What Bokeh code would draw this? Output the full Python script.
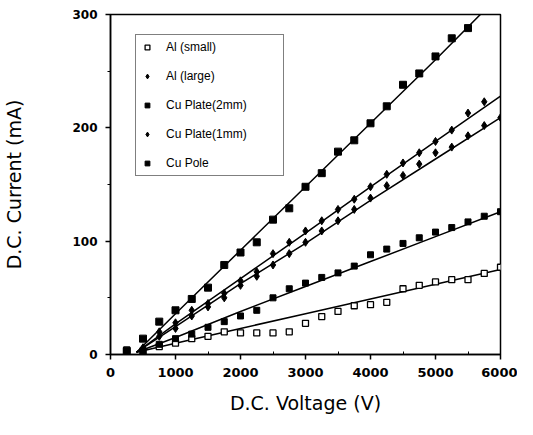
from bokeh.plotting import figure
from bokeh.models import Range1d, Legend, LegendItem, FixedTicker
from bokeh.embed import file_html
from bokeh.resources import INLINE

# ---- data ----
cu2_x = [250, 500, 750, 1000, 1250, 1500, 1750, 2000, 2250, 2500, 2750, 3000,
         3250, 3500, 3750, 4000, 4250, 4500, 4750, 5000, 5250, 5500]
cu2_y = [3, 14, 29, 39, 49, 59, 79, 90, 99, 119, 129, 148,
         160, 179, 189, 204, 219, 238, 248, 263, 279, 288]

al_large_x = [500, 750, 1000, 1250, 1500, 1750, 2000, 2250, 2500, 2750, 3000,
              3250, 3500, 3750, 4000, 4250, 4500, 4750, 5000, 5250, 5500, 5750]
al_large_y = [6, 20, 28, 39, 45, 54, 65, 73, 89, 99, 109,
              118, 128, 137, 148, 159, 169, 178, 188, 198, 213, 223]

cu1_x = [500, 750, 1000, 1250, 1500, 1750, 2000, 2250, 2500, 2750, 3000,
         3250, 3500, 3750, 4000, 4250, 4500, 4750, 5000, 5250, 5500, 5750, 6000]
cu1_y = [5, 16, 23, 34, 42, 50, 61, 69, 79, 89, 99,
         109, 118, 128, 138, 149, 158, 168, 178, 183, 193, 202, 209]

pole_x = [500, 750, 1000, 1250, 1500, 1750, 2000, 2250, 2500, 2750, 3000,
          3250, 3500, 3750, 4000, 4250, 4500, 4750, 5000, 5250, 5500, 5750, 6000]
pole_y = [3, 9, 14, 18, 24, 29, 34, 39, 50, 58, 63,
          68, 72, 78, 88, 93, 98, 103, 108, 112, 117, 122, 126]

al_small_x = [250, 500, 750, 1000, 1250, 1500, 1750, 2000, 2250, 2500, 2750, 3000,
              3250, 3500, 3750, 4000, 4250, 4500, 4750, 5000, 5250, 5500, 5750, 6000]
al_small_y = [4, 3, 7, 10, 14, 16, 20, 19, 19, 19, 20, 27.5,
              33.5, 38, 43, 44, 46, 58, 61, 64, 66, 66, 71.5, 77]

# fitted curves
fit_x = [400, 1000, 2000, 3000, 4000, 5000, 6000]
fit_cu2 = [2, 36, 92, 148, 204, 260, 318]
fit_al_large = [2, 27, 67, 107, 148, 188, 228]
fit_cu1 = [2, 24.5, 62.5, 98, 136, 172.5, 209]
fit_pole = [2, 15, 38, 60, 82, 104, 126]
fit_al_small = [2, 10, 23, 36, 49, 62, 75]

x_ticks = [0, 1000, 2000, 3000, 4000, 5000, 6000]
x_minor = [500, 1500, 2500, 3500, 4500, 5500]
y_ticks = [0, 100, 200, 300]
y_minor = [50, 150, 250]

# ---- figure ----
p = figure(width=517, height=419, output_backend="svg", toolbar_location=None,
           x_range=Range1d(0, 6000), y_range=Range1d(0, 300),
           min_border_left=110, min_border_right=17, min_border_top=14,
           min_border_bottom=65)
p.background_fill_color = "white"
p.border_fill_color = "white"
p.outline_line_color = "black"
p.outline_line_width = 1.5
p.grid.visible = False

for fy in [fit_cu2, fit_al_large, fit_cu1, fit_pole, fit_al_small]:
    p.line(fit_x, fy, line_color="black", line_width=1.5)

r_als = p.scatter(al_small_x, al_small_y, marker="square", size=6,
                  fill_color="white", line_color="black", line_width=1.3)
r_all = p.scatter(al_large_x, al_large_y, marker="diamond", size=8,
                  fill_color="black", line_color="black")
r_cu2 = p.scatter(cu2_x, cu2_y, marker="square", size=7,
                  fill_color="black", line_color="black")
r_cu1 = p.scatter(cu1_x, cu1_y, marker="diamond", size=8,
                  fill_color="black", line_color="black")
r_pole = p.scatter(pole_x, pole_y, marker="square", size=6,
                   fill_color="black", line_color="black")

legend = Legend(items=[
    LegendItem(label="Al (small)", renderers=[r_als]),
    LegendItem(label="Al (large)", renderers=[r_all]),
    LegendItem(label="Cu Plate(2mm)", renderers=[r_cu2]),
    LegendItem(label="Cu Plate(1mm)", renderers=[r_cu1]),
    LegendItem(label="Cu Pole", renderers=[r_pole]),
], location=(25, 178))
legend.border_line_color = "black"
legend.border_line_width = 1.5
legend.background_fill_alpha = 1
legend.padding = 5
legend.spacing = 15
legend.glyph_height = 14
legend.glyph_width = 12
legend.label_height = 14
legend.label_width = 112
legend.label_standoff = 13
legend.margin = 0
legend.label_text_font = "Liberation Sans"
legend.label_text_font_size = "12px"
legend.label_text_color = "black"
p.add_layout(legend, "center")

# axes
for ax in [p.xaxis[0], p.yaxis[0]]:
    ax.axis_line_color = "black"
    ax.axis_line_width = 1.5
    ax.major_tick_line_color = "black"
    ax.major_tick_line_width = 1.5
    ax.minor_tick_line_color = "black"
    ax.minor_tick_line_width = 1
    ax.major_label_text_color = "black"
    ax.major_label_text_font = "DejaVu Sans"
    ax.major_label_text_font_style = "bold"
    ax.axis_label_text_color = "black"
    ax.axis_label_text_font = "DejaVu Sans"
    ax.axis_label_text_font_style = "normal"
    ax.major_tick_in = 0
    ax.major_tick_out = 5

p.xaxis.ticker = FixedTicker(ticks=x_ticks, minor_ticks=x_minor)
p.yaxis.ticker = FixedTicker(ticks=y_ticks, minor_ticks=y_minor)
p.xaxis.minor_tick_in = 3
p.xaxis.minor_tick_out = 0
p.yaxis.minor_tick_in = 0
p.yaxis.minor_tick_out = 3

p.xaxis.major_label_text_font_size = "13px"
p.yaxis.major_label_text_font_size = "12px"
p.xaxis.major_label_standoff = 8
p.yaxis.major_label_standoff = 8

p.xaxis.axis_label = "D.C. Voltage (V)"
p.yaxis.axis_label = "D.C. Current (mA)"
p.xaxis.axis_label_text_font_size = "19px"
p.yaxis.axis_label_text_font_size = "19px"
p.xaxis.axis_label_standoff = 12
p.yaxis.axis_label_standoff = 44

open("out.html", "w").write(file_html(p, INLINE))
